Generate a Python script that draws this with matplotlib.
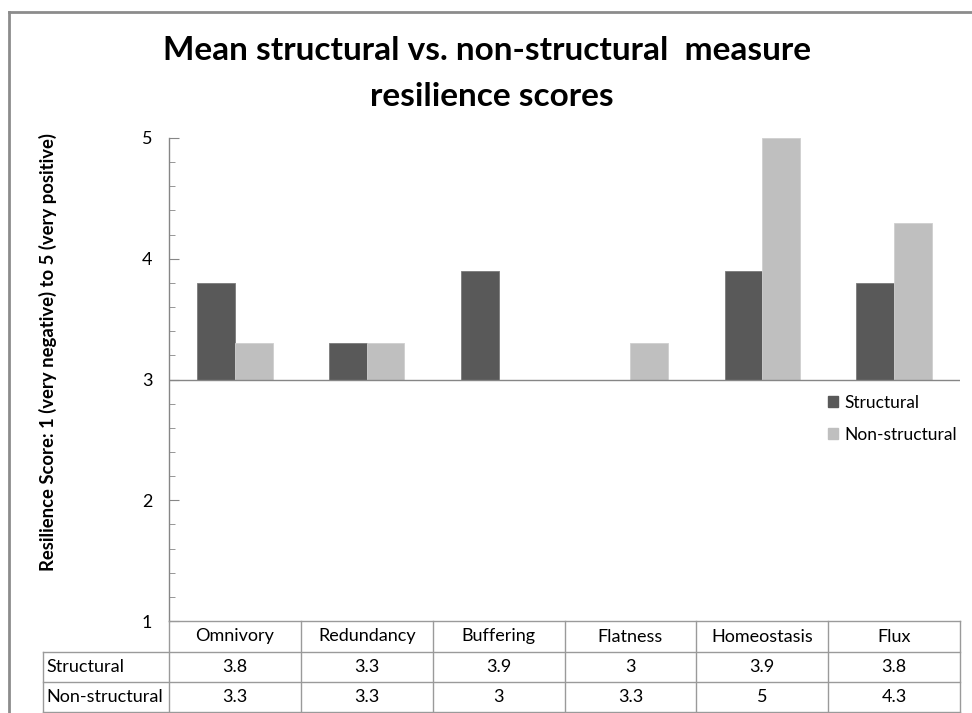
import matplotlib
matplotlib.use("Agg")
import matplotlib.pyplot as plt
from matplotlib.lines import Line2D
from matplotlib.patches import Rectangle
from matplotlib.ticker import MultipleLocator
import matplotlib.transforms as mtransforms

# Data
categories = ["Omnivory", "Redundancy", "Buffering", "Flatness", "Homeostasis", "Flux"]
structural = [3.8, 3.3, 3.9, 3.0, 3.9, 3.8]
non_structural = [3.3, 3.3, 3.0, 3.3, 5.0, 4.3]
series_names = ["Structural", "Non-structural"]
baseline = 3

col_dark = "#595959"
col_light = "#BFBFBF"
grid_col = "#868686"
FONT = ["Lato", "DejaVu Sans"]
plt.rcParams["font.family"] = FONT

W, H = 972, 713
fig = plt.figure(figsize=(W / 100, H / 100), dpi=100)

# outer chart frame (only top/left edges visible)
fig.add_artist(Line2D([9 / W, 9 / W], [0, 1 - 12 / H], transform=fig.transFigure,
                      color="#8c8c8c", lw=2))
fig.add_artist(Line2D([9 / W, 1], [1 - 12 / H, 1 - 12 / H], transform=fig.transFigure,
                      color="#8c8c8c", lw=2))

x0, x1 = 169, 960
y_top, y_bot = 138, 621
ax = fig.add_axes([x0 / W, 1 - y_bot / H, (x1 - x0) / W, (y_bot - y_top) / H])

n = len(categories)
xs = list(range(n))
bw = 1 / 3.5
ax.bar([x - bw / 2 for x in xs], [v - baseline for v in structural], bottom=baseline,
       width=bw, color=col_dark, edgecolor="#7a7a7a", linewidth=0.6, label=series_names[0])
ax.bar([x + bw / 2 for x in xs], [v - baseline for v in non_structural], bottom=baseline,
       width=bw, color=col_light, edgecolor="#cfcfcf", linewidth=0.6, label=series_names[1])

ax.set_xlim(-0.5, n - 0.5)
ax.set_ylim(1, 5)
for s in ["top", "right", "bottom"]:
    ax.spines[s].set_visible(False)
ax.spines["left"].set_color(grid_col)
ax.spines["left"].set_linewidth(1.0)
ax.axhline(baseline, color=grid_col, lw=1.0)
ax.yaxis.set_major_locator(MultipleLocator(1))
ax.yaxis.set_minor_locator(MultipleLocator(0.2))
ax.tick_params(axis="y", which="major", direction="in", length=7, color=grid_col,
               labelsize=13, pad=12)
ax.tick_params(axis="y", which="minor", direction="in", length=4.5, color=grid_col)
ax.set_xticks([])
ax.set_yticklabels([str(int(t)) for t in ax.get_yticks()])

# y-axis title
fig.text(48 / W, 1 - 352 / H, "Resilience Score: 1 (very negative) to 5 (very positive)",
         rotation=90, ha="center", va="center", fontsize=13.3, fontweight="bold")

# chart title
fig.text(487 / W, 1 - 51 / H, "Mean structural vs. non-structural  measure",
         ha="center", va="center", fontsize=24, fontweight="bold")
fig.text(492 / W, 1 - 96 / H, "resilience scores",
         ha="center", va="center", fontsize=24, fontweight="bold")

# legend
handles = [Rectangle((0, 0), 1, 1, color=col_dark), Rectangle((0, 0), 1, 1, color=col_light)]
leg = fig.legend(handles, series_names, loc="upper left",
                 bbox_to_anchor=(828 / W, 1 - 395 / H), frameon=False,
                 borderpad=0, borderaxespad=0,
                 handlelength=0.6, handleheight=0.6, handletextpad=0.35,
                 labelspacing=0.9, prop={"size": 12.5})

# data table beneath the plot
tr = mtransforms.blended_transform_factory(ax.transData, fig.transFigure)
ftr = fig.transFigure
tc = "#9a9a9a"
rows_y = [621, 652, 682, 712]
fy = lambda p: 1 - p / H
left_label = 43
# horizontal lines
fig.add_artist(Line2D([x0 / W, x1 / W], [fy(rows_y[0])] * 2, transform=ftr, color=tc, lw=1))
for yy in rows_y[1:]:
    fig.add_artist(Line2D([left_label / W, x1 / W], [fy(yy)] * 2, transform=ftr, color=tc, lw=1))
# vertical lines
for i in range(n + 1):
    fig.add_artist(Line2D([i - 0.5, i - 0.5], [fy(rows_y[0]), fy(rows_y[3])],
                          transform=tr, color=tc, lw=1))
fig.add_artist(Line2D([left_label / W] * 2, [fy(rows_y[1]), fy(rows_y[3])],
                      transform=ftr, color=tc, lw=1))

tfont = dict(fontsize=13)
for i, c in enumerate(categories):
    fig.text(i, fy((rows_y[0] + rows_y[1]) / 2), c, transform=tr, ha="center", va="center", **tfont)
    fig.text(i, fy((rows_y[1] + rows_y[2]) / 2), f"{structural[i]:g}", transform=tr,
             ha="center", va="center", **tfont)
    fig.text(i, fy((rows_y[2] + rows_y[3]) / 2), f"{non_structural[i]:g}", transform=tr,
             ha="center", va="center", **tfont)
fig.text((left_label + 3) / W, fy((rows_y[1] + rows_y[2]) / 2), series_names[0],
         ha="left", va="center", **tfont)
fig.text((left_label + 3) / W, fy((rows_y[2] + rows_y[3]) / 2), series_names[1],
         ha="left", va="center", **tfont)

fig.savefig("out.png", dpi=100)
